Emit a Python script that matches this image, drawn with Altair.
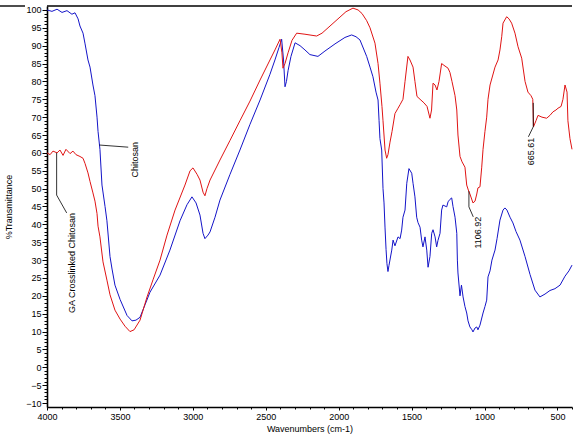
import altair as alt
import pandas as pd

# FTIR spectra: wavenumber (cm-1) and % transmittance
chitosan_wn = [4000, 3966, 3931, 3897, 3863, 3829, 3808, 3787, 3774, 3753, 3739, 3719, 3705, 3685,
               3671, 3657, 3650, 3637, 3623, 3602, 3589, 3568, 3554, 3534, 3499, 3451, 3417, 3390,
               3362, 3328, 3294, 3225, 3157, 3088, 3040, 3006, 2978, 2951, 2930, 2917, 2896, 2882,
               2848, 2814, 2745, 2677, 2608, 2539, 2471, 2437, 2409, 2391, 2378, 2368, 2358, 2347,
               2327, 2299, 2265, 2231, 2197, 2142, 2094, 2025, 1957, 1911, 1881, 1854, 1808, 1785,
               1765, 1744, 1730, 1723, 1717, 1705, 1696, 1689, 1682, 1675, 1669, 1662, 1655, 1636,
               1627, 1614, 1593, 1579, 1568, 1559, 1545, 1533, 1518, 1499, 1490, 1477, 1465, 1456,
               1442, 1431, 1422, 1408, 1396, 1387, 1374, 1362, 1353, 1339, 1328, 1319, 1305, 1294,
               1285, 1259, 1250, 1237, 1225, 1216, 1202, 1190, 1186, 1182, 1168, 1158, 1147, 1134,
               1122, 1113, 1100, 1086, 1079, 1065, 1053, 1045, 1031, 1010, 997, 985, 976, 962, 949,
               928, 914, 894, 873, 860, 846, 825, 805, 784, 757, 722, 688, 654, 620, 585, 551, 517,
               482, 448, 421, 400]
chitosan_t = [100, 99.6, 100.2, 99.3, 99.8, 98.8, 99.2, 97.5, 95.5, 93.5, 90.5, 86, 84, 79,
              76, 70, 66, 61, 51, 45, 41, 31, 27.5, 23, 19, 14.5, 13, 13.2,
              14, 17.5, 21, 25.8, 32.8, 41, 45.5, 47.7, 46, 42.6, 37.5, 36, 37, 37.9,
              42, 46.8, 54, 60.8, 68, 74.8, 82, 86, 89.5, 91.8, 86, 78.5, 80, 83,
              87, 90.8, 90, 88.8, 87.5, 87, 88.5, 90.5, 92.3, 93, 92.5, 91.6, 87, 84,
              81.3, 77, 74.8, 69, 64, 60.8, 50, 46, 39, 33, 29, 26.8, 28.5, 32.8,
              35.6, 34, 36.5, 36, 38.4, 42, 44, 51.5, 55.6, 54.3, 51.5, 47.7, 42, 40.5,
              39.2, 35.6, 33.7, 36.5, 32.8, 28, 31, 37.5, 38.5, 36.5, 33.7, 35.5, 37.5, 44,
              45.4, 44.9, 46.3, 47, 47.4, 45, 42, 37.5, 30, 26.4, 20, 23, 19.7, 17,
              15.2, 13, 11.3, 10.5, 9.9, 11, 11.3, 10.5, 11.8, 15.2, 17, 18.8, 25.3, 27, 30,
              32.8, 36, 41.2, 44, 44.6, 44, 42, 40.4, 38, 35.6, 31, 26, 21.6, 19.7, 20.5, 21.5, 22,
              23, 25.5, 27, 28.6]

ga_wn = [4000, 3979, 3959, 3931, 3911, 3890, 3870, 3842, 3822, 3801, 3774, 3753, 3739, 3719,
         3705, 3685, 3671, 3657, 3650, 3637, 3616, 3589, 3568, 3534, 3499, 3465, 3431, 3403,
         3362, 3314, 3273, 3225, 3177, 3122, 3054, 3019, 2999, 2971, 2951, 2930, 2917, 2903,
         2882, 2814, 2745, 2677, 2608, 2539, 2471, 2437, 2402, 2389, 2382, 2368, 2347, 2320,
         2288, 2231, 2151, 2114, 2073, 2032, 1991, 1950, 1902, 1867, 1840, 1808, 1785, 1751,
         1730, 1717, 1703, 1696, 1682, 1671, 1662, 1648, 1634, 1614, 1593, 1579, 1559, 1545,
         1525, 1511, 1490, 1477, 1463, 1442, 1415, 1394, 1374, 1363, 1353, 1339, 1326, 1312,
         1294, 1278, 1250, 1237, 1223, 1202, 1190, 1182, 1168, 1154, 1134, 1122, 1111, 1100,
         1079, 1065, 1053, 1045, 1031, 1019, 1010, 997, 985, 976, 962, 928, 907, 894, 882,
         873, 848, 832, 814, 791, 770, 745, 722, 702, 681, 669, 664, 647, 633, 606, 574, 551,
         530, 510, 496, 475, 462, 448, 434, 428, 414, 400]
ga_t = [60, 59.5, 60.5, 60, 60.8, 59.3, 61, 59.8, 60.5, 59.5, 59, 58.5, 57, 54.4,
        52, 48.8, 46.5, 43, 39.5, 36.5, 29.5, 24.4, 20.3, 16, 13.5, 11.5, 10, 10.5,
        13.2, 19.7, 24.5, 30, 37, 44, 51, 55, 55.8, 54, 52.4, 49, 48, 50,
        52.4, 58, 63.5, 69, 74.5, 80.4, 86, 88.8, 91.8, 88, 83.7, 85, 88, 91.5,
        93.5, 93.2, 92.7, 93.5, 95, 96.5, 98, 99.5, 100.5, 100, 99, 97, 95, 90.7,
        85, 79.5, 73, 69, 60.8, 58.5, 59.5, 63, 66, 71, 72.5, 73.5, 75, 80,
        87, 86, 84, 80, 75.8, 75, 74, 73, 69.7, 72, 79.5, 79, 77.6, 80,
        85, 84.5, 83.7, 82.5, 80, 76, 72, 65, 59, 57.5, 56, 51, 49.6, 48.5,
        46, 46.5, 48.5, 50.2, 50.5, 56, 61, 66, 70, 75, 79, 84, 86, 88.8, 92.5,
        96.3, 98.1, 97.5, 96.3, 93.5, 89.7, 86.5, 80, 77, 76, 75, 67.3, 69, 70.5, 70, 69.7, 70.5,
        71.5, 72, 72.5, 73, 75, 79, 77, 69, 64, 61]

series_names = ["Chitosan", "GA Crosslinked Chitosan"]
series_colors = ["#1414c8", "#e01414"]

# axis ticks
x_major = [4000, 3500, 3000, 2500, 2000, 1500, 1000, 500]
x_minor = list(range(400, 4001, 100))
y_major = [-10, -5, 0, 5, 10, 15, 20, 25, 30, 35, 40, 45, 50, 55, 60, 65, 70, 75, 80, 85, 90, 95, 100]
y_minor = list(range(-10, 101, 1))

# peak labels and series labels with their leader lines
label_text = ["Chitosan", "GA Crosslinked Chitosan", "1106.92", "665.61"]
label_wn = [3400, 3831, 1043, 681]
label_t = [58.1, 29.2, 37.7, 60.4]

leader_key = ["c", "c", "g", "g", "g", "p1", "p1", "p1", "p2", "p2", "p2"]
leader_step = [0, 1, 0, 1, 2, 0, 1, 2, 0, 1, 2]
leader_wn = [3641, 3443, 3934, 3934, 3865, 1106.92, 1106.92, 1077, 665.61, 665.61, 699]
leader_t = [62.2, 61.6, 60, 48.2, 43.2, 49.3, 44.9, 42.1, 74, 67.3, 64.5]

FONT = "Liberation Sans"

spectra = pd.concat([
    pd.DataFrame({"wn": chitosan_wn, "t": chitosan_t, "series": series_names[0]}),
    pd.DataFrame({"wn": ga_wn, "t": ga_t, "series": series_names[1]}),
], ignore_index=True)
labels = pd.DataFrame({"wn": label_wn, "t": label_t, "label": label_text})
leaders = pd.DataFrame({"key": leader_key, "step": leader_step, "wn": leader_wn, "t": leader_t})

xs = alt.Scale(domain=[400, 4000], reverse=True, nice=False, zero=False)
ys = alt.Scale(domain=[-11.1, 101.1], nice=False, zero=False)

lines = alt.Chart(spectra).mark_line(strokeWidth=1).encode(
    x=alt.X("wn:Q", scale=xs, axis=alt.Axis(
        values=x_major, format="d", title="Wavenumbers (cm-1)", orient="bottom",
        tickSize=3, labelPadding=2, labelFlush=False, labelOverlap=False,
        domainWidth=1.6, titlePadding=3)),
    y=alt.Y("t:Q", scale=ys, axis=alt.Axis(
        values=y_major, format="d", title="%Transmittance", orient="left",
        tickSize=5, labelPadding=1, labelOverlap=False, domainWidth=1.6,
        titlePadding=12)),
    color=alt.Color("series:N", scale=alt.Scale(domain=series_names, range=series_colors), legend=None),
)

minor = alt.Chart(spectra).mark_point(opacity=0).encode(
    x=alt.X("wn:Q", scale=xs, axis=alt.Axis(
        values=x_minor, labels=False, title=None, domain=False, tickSize=2, orient="bottom")),
    y=alt.Y("t:Q", scale=ys, axis=alt.Axis(
        values=y_minor, labels=False, title=None, domain=False, tickSize=3, orient="left")),
)

leader_lines = alt.Chart(leaders).mark_line(color="black", strokeWidth=0.8).encode(
    x=alt.X("wn:Q", axis=None),
    y=alt.Y("t:Q", axis=None),
    detail="key:N",
    order="step:Q",
)

label_marks = alt.Chart(labels).mark_text(
    angle=270, font=FONT, fontSize=9, color="black", align="center", baseline="middle"
).encode(
    x=alt.X("wn:Q", axis=None),
    y=alt.Y("t:Q", axis=None),
    text="label:N",
)

frame = pd.DataFrame({"k": [0]})
top_line = alt.Chart(frame).mark_rule(color="black", strokeWidth=1.4).encode(
    x=alt.value(0), x2=alt.value(525), y=alt.value(0)
)
corner_line = alt.Chart(frame).mark_rule(color="black", strokeWidth=1.4).encode(
    x=alt.value(-47), x2=alt.value(-22), y=alt.value(0)
)

chart = alt.layer(
    minor, lines, leader_lines, label_marks, top_line, corner_line
).resolve_axis(
    x="independent", y="independent"
).properties(
    width=525, height=401,
    padding={"left": 47, "top": 6, "right": 5, "bottom": 33},
    autosize=alt.AutoSizeParams(type="none"),
).configure_view(
    stroke=None
).configure_axis(
    grid=False,
    domainColor="black", tickColor="black",
    labelFont=FONT, labelFontSize=9, labelColor="black",
    titleFont=FONT, titleFontSize=9, titleFontWeight="normal", titleColor="black",
)

chart.save("out.html", embed_options={"renderer": "svg", "actions": False})
